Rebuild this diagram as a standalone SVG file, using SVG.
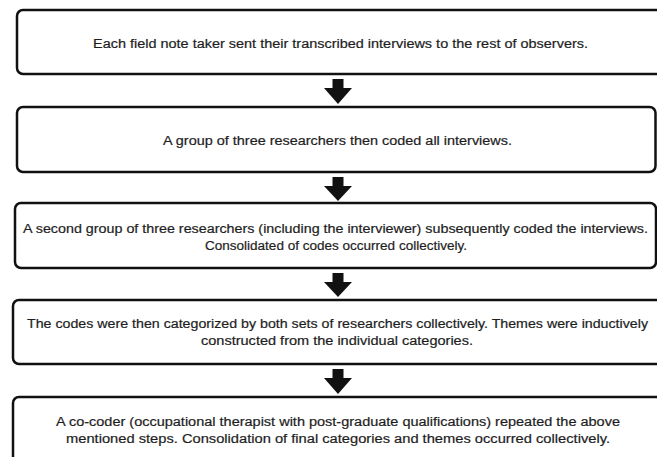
<svg xmlns="http://www.w3.org/2000/svg" width="657" height="457" viewBox="0 0 657 457">
<style>
.box{fill:#fff;stroke:#111;stroke-width:2.5}
.t{font-family:"Liberation Sans",Arial,sans-serif;font-size:12.5px;fill:#1e1e1e;stroke:#1e1e1e;stroke-width:0.2;text-anchor:start}
.arr{fill:#111}
</style>
<rect width="657" height="457" fill="#fff"/>
<g id="node1">
<rect class="box" x="17" y="10" width="645" height="64" rx="6"/>
<text class="t" x="93" y="47.5" textLength="495" lengthAdjust="spacingAndGlyphs">Each field note taker sent their transcribed interviews to the rest of observers.</text>
</g>
<g id="node2">
<rect class="box" x="17" y="107" width="638.5" height="65" rx="6"/>
<text class="t" x="163" y="144.5" textLength="349" lengthAdjust="spacingAndGlyphs">A group of three researchers then coded all interviews.</text>
</g>
<g id="node3">
<rect class="box" x="15" y="203" width="641" height="65" rx="6"/>
<text class="t" x="23" y="232.5" textLength="625" lengthAdjust="spacingAndGlyphs">A second group of three researchers (including the interviewer) subsequently coded the interviews.</text>
<text class="t" x="205" y="249.5" textLength="262" lengthAdjust="spacingAndGlyphs">Consolidated of codes occurred collectively.</text>
</g>
<g id="node4">
<rect class="box" x="13" y="300" width="649" height="64" rx="6"/>
<text class="t" x="27" y="327.5" textLength="621" lengthAdjust="spacingAndGlyphs">The codes were then categorized by both sets of researchers collectively. Themes were inductively</text>
<text class="t" x="201" y="344.5" textLength="272" lengthAdjust="spacingAndGlyphs">constructed from the individual categories.</text>
</g>
<g id="node5">
<rect class="box" x="13" y="397" width="649" height="75" rx="6"/>
<text class="t" x="56" y="425.5" textLength="564" lengthAdjust="spacingAndGlyphs">A co-coder (occupational therapist with post-graduate qualifications) repeated the above</text>
<text class="t" x="66" y="442.5" textLength="544" lengthAdjust="spacingAndGlyphs">mentioned steps. Consolidation of final categories and themes occurred collectively.</text>
</g>
<g id="connectors">
<polygon class="arr" points="332.5,79 343.5,79 343.5,88 352,88 338,104 324,88 332.5,88"/>
<polygon class="arr" points="332.5,177 343.5,177 343.5,186 352,186 338,201 324,186 332.5,186"/>
<polygon class="arr" points="332.5,273 343.5,273 343.5,282 352,282 338,297 324,282 332.5,282"/>
<polygon class="arr" points="332.5,369 343.5,369 343.5,378 352,378 338,394 324,378 332.5,378"/>
</g>
</svg>
